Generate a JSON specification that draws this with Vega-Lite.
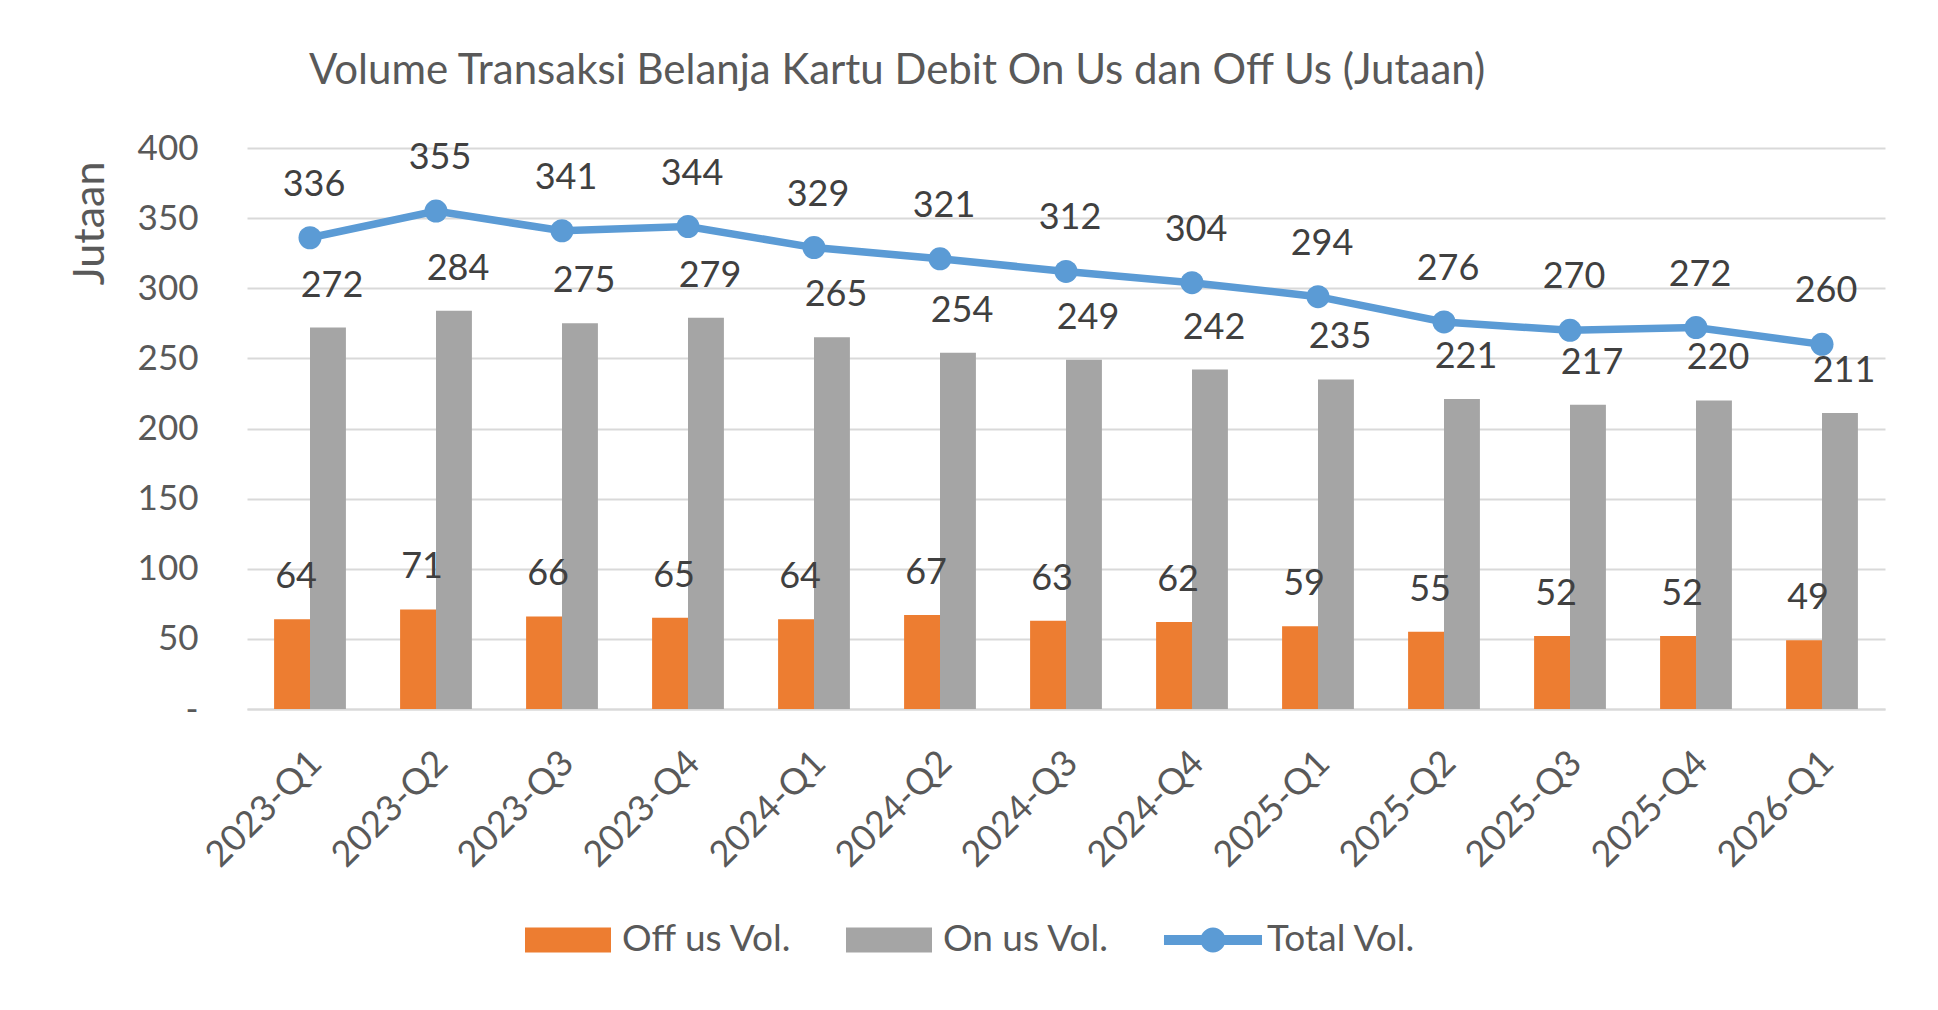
{
  "$schema": "https://vega.github.io/schema/vega-lite/v6.json",
  "width": 1638,
  "height": 561,
  "autosize": {"type": "none"},
  "padding": {"left": 247, "top": 148, "right": 53, "bottom": 301},
  "background": "white",
  "config": {"font": "Lato", "view": {"stroke": null}},
  "title": {
    "text": "Volume Transaksi Belanja Kartu Debit On Us dan Off Us (Jutaan)",
    "anchor": "start",
    "frame": "group",
    "dx": 62,
    "fontSize": 42,
    "fontWeight": "normal",
    "color": "#595959",
    "offset": 38
  },
  "data": {
    "values": [
      {"q": "2023-Q1", "series": "Off us Vol.", "value": 64},
      {"q": "2023-Q1", "series": "On us Vol.", "value": 272},
      {"q": "2023-Q1", "series": "Total Vol.", "value": 336},
      {"q": "2023-Q2", "series": "Off us Vol.", "value": 71},
      {"q": "2023-Q2", "series": "On us Vol.", "value": 284},
      {"q": "2023-Q2", "series": "Total Vol.", "value": 355},
      {"q": "2023-Q3", "series": "Off us Vol.", "value": 66},
      {"q": "2023-Q3", "series": "On us Vol.", "value": 275},
      {"q": "2023-Q3", "series": "Total Vol.", "value": 341},
      {"q": "2023-Q4", "series": "Off us Vol.", "value": 65},
      {"q": "2023-Q4", "series": "On us Vol.", "value": 279},
      {"q": "2023-Q4", "series": "Total Vol.", "value": 344},
      {"q": "2024-Q1", "series": "Off us Vol.", "value": 64},
      {"q": "2024-Q1", "series": "On us Vol.", "value": 265},
      {"q": "2024-Q1", "series": "Total Vol.", "value": 329},
      {"q": "2024-Q2", "series": "Off us Vol.", "value": 67},
      {"q": "2024-Q2", "series": "On us Vol.", "value": 254},
      {"q": "2024-Q2", "series": "Total Vol.", "value": 321},
      {"q": "2024-Q3", "series": "Off us Vol.", "value": 63},
      {"q": "2024-Q3", "series": "On us Vol.", "value": 249},
      {"q": "2024-Q3", "series": "Total Vol.", "value": 312},
      {"q": "2024-Q4", "series": "Off us Vol.", "value": 62},
      {"q": "2024-Q4", "series": "On us Vol.", "value": 242},
      {"q": "2024-Q4", "series": "Total Vol.", "value": 304},
      {"q": "2025-Q1", "series": "Off us Vol.", "value": 59},
      {"q": "2025-Q1", "series": "On us Vol.", "value": 235},
      {"q": "2025-Q1", "series": "Total Vol.", "value": 294},
      {"q": "2025-Q2", "series": "Off us Vol.", "value": 55},
      {"q": "2025-Q2", "series": "On us Vol.", "value": 221},
      {"q": "2025-Q2", "series": "Total Vol.", "value": 276},
      {"q": "2025-Q3", "series": "Off us Vol.", "value": 52},
      {"q": "2025-Q3", "series": "On us Vol.", "value": 217},
      {"q": "2025-Q3", "series": "Total Vol.", "value": 270},
      {"q": "2025-Q4", "series": "Off us Vol.", "value": 52},
      {"q": "2025-Q4", "series": "On us Vol.", "value": 220},
      {"q": "2025-Q4", "series": "Total Vol.", "value": 272},
      {"q": "2026-Q1", "series": "Off us Vol.", "value": 49},
      {"q": "2026-Q1", "series": "On us Vol.", "value": 211},
      {"q": "2026-Q1", "series": "Total Vol.", "value": 260}
    ]
  },
  "encoding": {
    "x": {
      "field": "q",
      "type": "nominal",
      "sort": null,
      "scale": {"paddingInner": 0.43, "paddingOuter": 0.215},
      "axis": {
        "title": null,
        "labelAngle": -45,
        "labelFontSize": 36,
        "labelColor": "#595959",
        "labelPadding": 36,
        "labelOffset": -6,
        "ticks": false,
        "domainColor": "#D9D9D9",
        "domainWidth": 2
      }
    },
    "y": {
      "field": "value",
      "type": "quantitative",
      "scale": {"domain": [0, 400]},
      "axis": {
        "title": "Jutaan",
        "titleFontSize": 43,
        "titleFontWeight": "normal",
        "titleColor": "#595959",
        "titleAlign": "right",
        "titleBaseline": "middle",
        "titleX": -157,
        "titleY": 13,
        "values": [0, 50, 100, 150, 200, 250, 300, 350, 400],
        "labelExpr": "datum.value === 0 ? '-' : datum.label",
        "labelFontSize": 35,
        "labelColor": "#595959",
        "labelPadding": 49,
        "ticks": false,
        "domain": false,
        "gridColor": "#D9D9D9",
        "gridWidth": 2
      }
    },
    "color": {
      "field": "series",
      "type": "nominal",
      "scale": {
        "domain": ["Off us Vol.", "On us Vol.", "Total Vol."],
        "range": ["#ED7D31", "#A5A5A5", "#5B9BD5"]
      },
      "legend": {
        "title": null,
        "orient": "none",
        "direction": "horizontal",
        "legendX": 278,
        "legendY": 749,
        "labelFontSize": 37,
        "labelColor": "#595959",
        "labelLimit": 400,
        "labelOffset": 11,
        "columnPadding": 53,
        "symbolSize": 7396,
        "symbolStrokeWidth": 0,
        "encode": {
          "symbols": {
            "update": {
              "shape": {"signal": "datum.label === 'Total Vol.' ? 'M-1.14,-0.116H1.14V0.116H-1.14Z M0.29,0A0.29,0.29 0 1,1 -0.29,0A0.29,0.29 0 1,1 0.29,0Z' : 'M-1,-0.29H1V0.29H-1Z'"},
              "fill": {"scale": "color", "field": "value"},
              "opacity": {"value": 1}
            }
          }
        }
      }
    }
  },
  "layer": [
    {
      "transform": [{"filter": "datum.series !== 'Total Vol.'"}],
      "mark": {"type": "bar"},
      "encoding": {
        "xOffset": {"field": "series", "sort": ["Off us Vol.", "On us Vol."]}
      }
    },
    {
      "transform": [{"filter": "datum.series !== 'Total Vol.'"}],
      "mark": {"type": "text", "fontSize": 36, "baseline": "alphabetic", "dy": -31, "dx": 4},
      "encoding": {
        "xOffset": {"field": "series", "sort": ["Off us Vol.", "On us Vol."]},
        "text": {"field": "value"},
        "color": {"value": "#404040"}
      }
    },
    {
      "transform": [{"filter": "datum.series === 'Total Vol.'"}],
      "mark": {"type": "line", "strokeWidth": 7.5, "point": {"filled": true, "size": 530}}
    },
    {
      "transform": [{"filter": "datum.series === 'Total Vol.'"}],
      "mark": {"type": "text", "fontSize": 36, "baseline": "alphabetic", "dy": -42, "dx": 4},
      "encoding": {
        "text": {"field": "value"},
        "color": {"value": "#404040"}
      }
    }
  ]
}
